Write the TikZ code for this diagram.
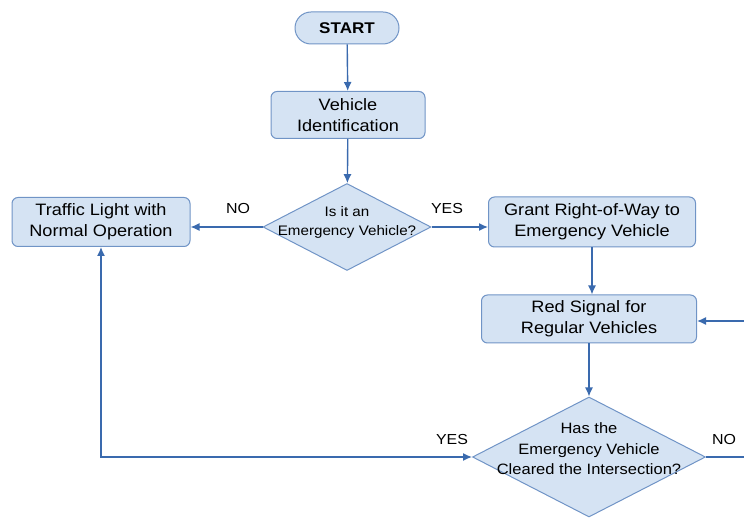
\documentclass[tikz,border=0pt]{standalone}
\usepackage{fontspec}
\setmainfont{Liberation Sans}[FakeStretch=1.1]
\usetikzlibrary{shapes.geometric,arrows.meta}
\definecolor{boxfill}{RGB}{213,227,243}
\definecolor{boxline}{RGB}{112,148,198}
\definecolor{flowline}{RGB}{58,106,174}

\begin{document}
\begin{tikzpicture}[x=1pt, y=-1pt,
  every node/.style={font=\fontsize{16.5}{21}\selectfont, align=center},
  procbox/.style={draw=boxline, fill=boxfill, line width=1pt, rounded corners=6pt, inner sep=0pt},
  decision/.style={diamond, draw=boxline, fill=boxfill, line width=1pt, inner sep=0pt},
  flow/.style={draw=flowline, line width=1.4pt, -{Latex[length=9pt,width=8pt]}},
  answer/.style={font=\fontsize{14.5}{18}\selectfont}]
\useasboundingbox (0,0) rectangle (744,518);
% Draw boxes
\node[procbox, minimum width=104pt, minimum height=32pt, rounded corners=16pt,
  font=\fontsize{15.5}{19}\selectfont\bfseries] (start) at (347,28) {START};
\node[procbox, minimum width=154pt, minimum height=47pt] (ident) at (348,115) {Vehicle\\Identification};
\node[decision, minimum width=168pt, minimum height=87pt,
  label={[yshift=5pt, font=\fontsize{13.8}{19}\selectfont]center:Is it an\\Emergency Vehicle?}] (emerg) at (347,227) {};
\node[procbox, minimum width=178pt, minimum height=49pt] (normal) at (101,222) {Traffic Light with\\Normal Operation};
\node[procbox, minimum width=207pt, minimum height=50pt] (grant) at (592,222) {Grant Right-of-Way to\\Emergency Vehicle};
\node[procbox, minimum width=215pt, minimum height=48pt] (red) at (589,319) {Red Signal for\\Regular Vehicles};
\node[decision, minimum width=233pt, minimum height=120pt,
  label={[yshift=8pt, font=\fontsize{15}{20.5}\selectfont]center:Has the\\Emergency Vehicle\\Cleared the Intersection?}] (cleared) at (589,457) {};
\coordinate (noexit) at (744,457);
\coordinate (noback) at (744,321);
% Draw connectors
\draw[flow] (start) -- (ident);
\draw[flow] (ident) -- (emerg);
\draw[flow] (emerg.west) -- (emerg.west -| normal.east);
\draw[flow] (emerg.east) -- (emerg.east -| grant.west);
\draw[flow] (grant.south) -- (grant.south |- red.north);
\draw[flow] (red) -- (cleared);
\draw[flow] (noback) -- (noback -| red.east);
\draw[flow, -] (cleared.east) -- (noexit);
\draw[flow, {Latex[length=9pt,width=8pt]}-{Latex[length=9pt,width=8pt]}] (normal.south) |- (cleared.west);
% Draw labels
\node[answer] (noleft) at (238,209) {NO};
\node[answer] (yesright) at (447,209) {YES};
\node[answer] (yesback) at (452,440) {YES};
\node[answer] (noloop) at (724,440) {NO};
\end{tikzpicture}
\end{document}
